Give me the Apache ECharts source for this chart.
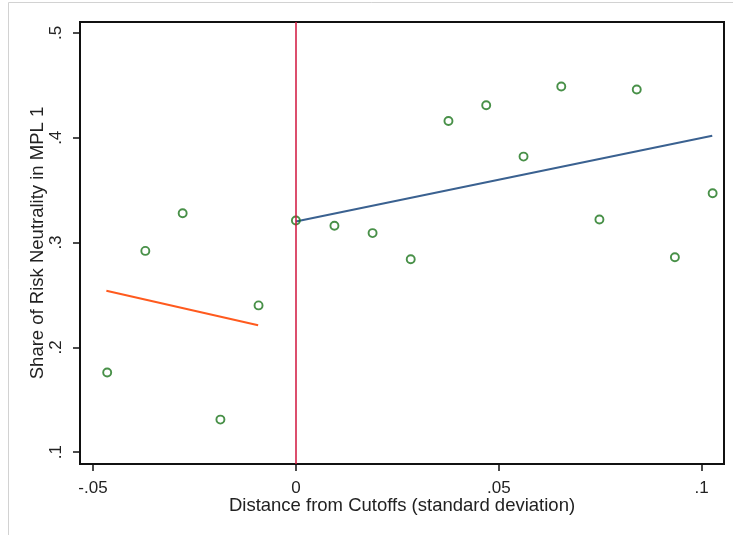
<!DOCTYPE html>
<html>
<head>
<meta charset="utf-8">
<script src="https://cdn.jsdelivr.net/npm/echarts@6/dist/echarts.min.js"></script>
<style>
  html, body { margin: 0; padding: 0; background: #fff; }
  #chart { width: 733px; height: 535px; }
</style>
</head>
<body>
<div id="chart"></div>
<script>
// Binned means of the running variable (distance from cutoff, SD units)
const binX = [-0.0465, -0.0371, -0.0279, -0.0186, -0.0092,
              0.0000, 0.0095, 0.0189, 0.0283, 0.0376, 0.0469, 0.0561,
              0.0654, 0.0748, 0.0840, 0.0934, 0.1027];
// Share of risk-neutral choices in MPL 1 for each bin
const shareY = [0.176, 0.292, 0.328, 0.131, 0.240,
                0.321, 0.316, 0.309, 0.284, 0.416, 0.431, 0.382,
                0.449, 0.322, 0.446, 0.286, 0.347];
// Linear fits on each side of the cutoff (endpoints)
const fitLeftX = [-0.0467, -0.0093];
const fitLeftY = [0.254, 0.221];
const fitRightX = [0.0000, 0.1026];
const fitRightY = [0.320, 0.402];
// Tick positions
const xTicks = [-0.05, 0, 0.05, 0.1];
const yTicks = [0.1, 0.2, 0.3, 0.4, 0.5];
const cutoff = 0;

// Stata-style number labels: drop the leading zero
function stataFmt(v) {
  if (v === 0) return '0';
  let s = String(+v.toFixed(4));
  return s.replace(/^(-?)0\./, '$1.');
}

const FONT = 'Liberation Sans, Arial, sans-serif';
const chart = echarts.init(document.getElementById('chart'), null, { renderer: 'canvas' });

chart.setOption({
  animation: false,
  backgroundColor: '#ffffff',
  graphic: [{
    type: 'rect',
    shape: { x: 8.5, y: 2.5, width: 800, height: 600 },
    style: { fill: 'none', stroke: '#d2d2d2', lineWidth: 1 },
    silent: true, z: -1
  }],
  grid: {
    left: 80, top: 22, right: 9, bottom: 71,
    show: true, borderColor: '#111', borderWidth: 2, backgroundColor: '#fff'
  },
  xAxis: {
    type: 'value',
    min: -0.0532, max: 0.1055,
    name: 'Distance from Cutoffs (standard deviation)',
    nameLocation: 'middle', nameGap: 32, nameMoveOverlap: false,
    nameTextStyle: { fontFamily: FONT, fontSize: 18.5, color: '#222' },
    axisLine: { onZero: false, lineStyle: { color: '#111', width: 2 } },
    axisTick: { show: true, length: 7, customValues: xTicks, lineStyle: { color: '#111', width: 1.5 } },
    axisLabel: { customValues: xTicks, margin: 16, fontFamily: FONT, fontSize: 17, color: '#222',
                 formatter: v => stataFmt(v) },
    splitLine: { show: false }
  },
  yAxis: {
    type: 'value',
    min: 0.0886, max: 0.5105,
    name: 'Share of Risk Neutrality in MPL 1',
    nameLocation: 'middle', nameGap: 33, nameRotate: 90, nameMoveOverlap: false,
    nameTextStyle: { fontFamily: FONT, fontSize: 18.5, color: '#222' },
    axisLine: { onZero: false, lineStyle: { color: '#111', width: 2 } },
    axisTick: { show: true, length: 7, customValues: yTicks, lineStyle: { color: '#111', width: 1.5 } },
    axisLabel: { customValues: yTicks, rotate: 90, margin: 15, fontFamily: FONT, fontSize: 17, color: '#222',
                 formatter: v => stataFmt(v) },
    splitLine: { show: false }
  },
  series: [
    {
      type: 'line',
      data: [],
      silent: true,
      z: 1,
      markLine: {
        silent: true, symbol: 'none', label: { show: false },
        lineStyle: { color: '#d0143c', width: 1.5, type: 'solid' },
        data: [{ xAxis: cutoff }]
      }
    },
    {
      type: 'line',
      data: fitLeftX.map((x, i) => [x, fitLeftY[i]]),
      symbol: 'none', z: 2,
      lineStyle: { color: '#ff5a1e', width: 2 }
    },
    {
      type: 'line',
      data: fitRightX.map((x, i) => [x, fitRightY[i]]),
      symbol: 'none', z: 2,
      lineStyle: { color: '#3a6190', width: 2 }
    },
    {
      type: 'scatter',
      data: binX.map((x, i) => [x, shareY[i]]),
      symbol: 'circle', symbolSize: 8, z: 3,
      itemStyle: { color: 'rgba(255,255,255,0)', borderColor: '#1a741a', borderWidth: 1.9 }
    }
  ]
});
</script>
</body>
</html>
